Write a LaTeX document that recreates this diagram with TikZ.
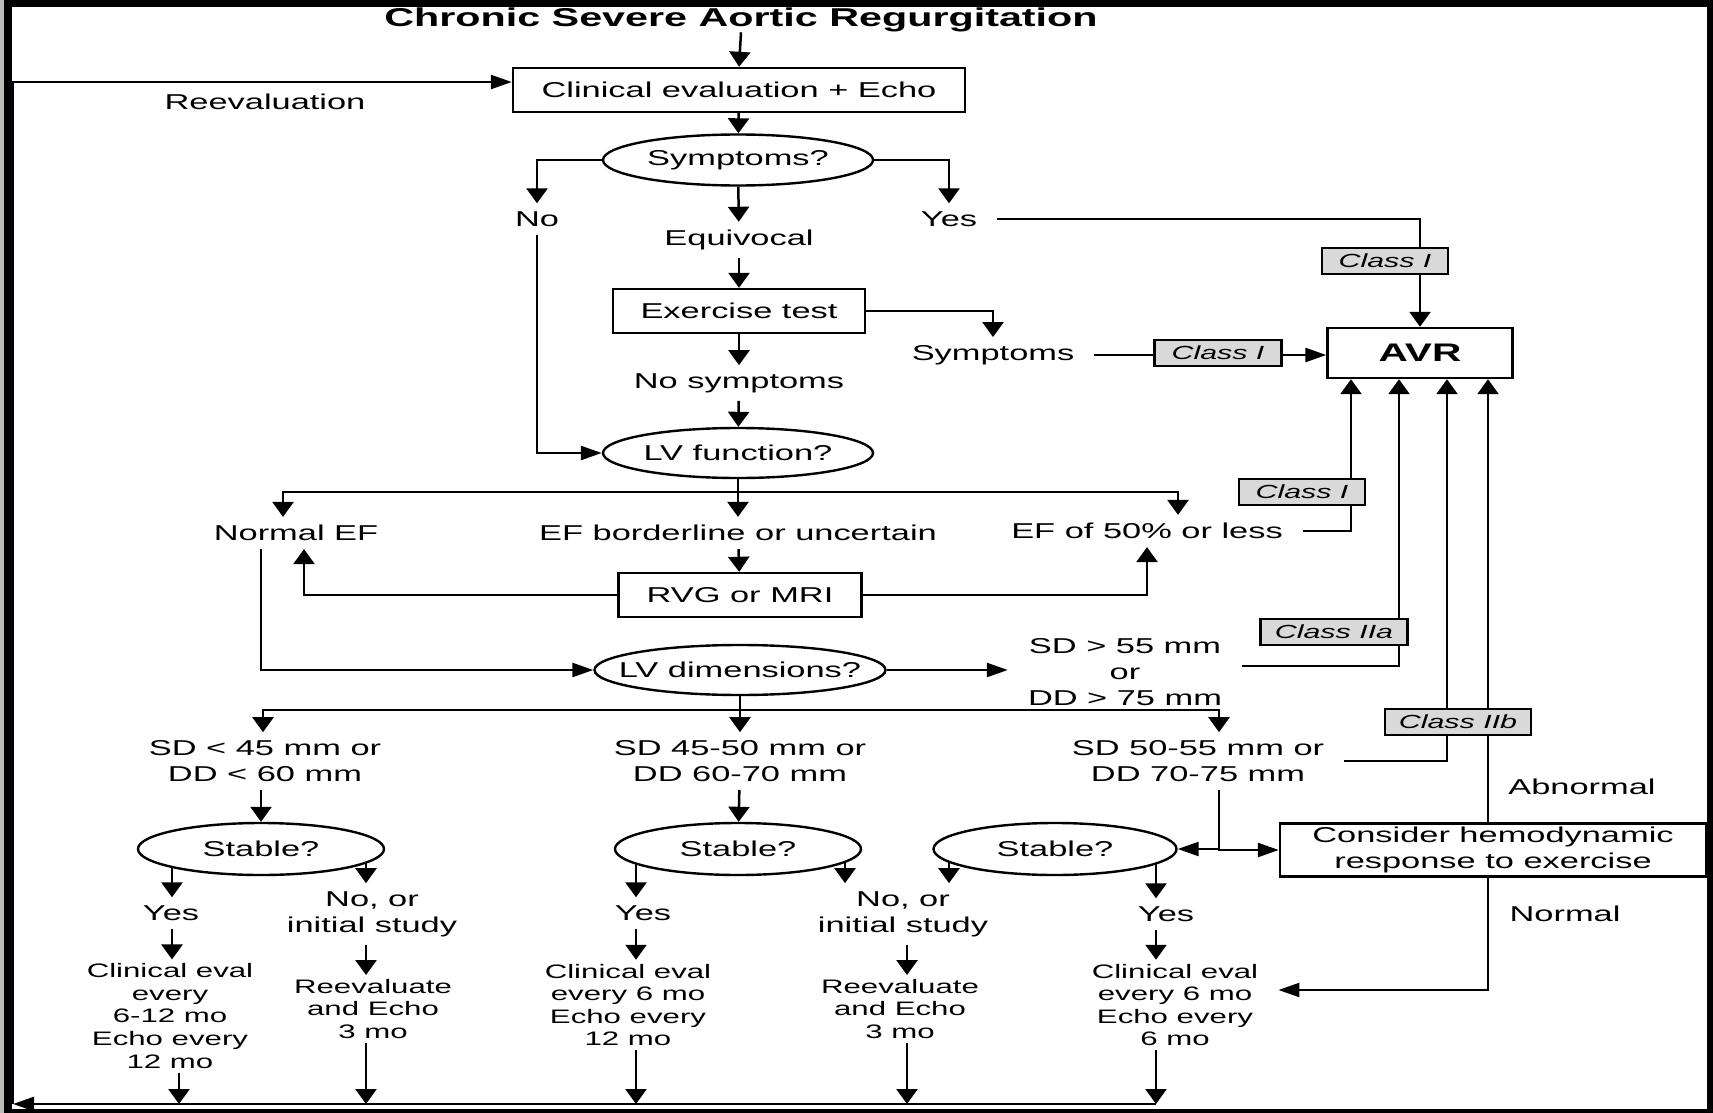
\documentclass[tikz,border=0pt]{standalone}
\usepackage{fontspec}
\setmainfont{Liberation Sans}[FakeStretch=1.6]
\usetikzlibrary{positioning,backgrounds,shapes.geometric,arrows.meta}

\definecolor{edgegray}{RGB}{190,186,182}
\newcommand{\flowmain}{\fontsize{21.5}{26}\selectfont}
\newcommand{\flowsmall}{\fontsize{19.5}{22.6}\selectfont}
\newcommand{\flowtag}{\fontsize{19}{22}\selectfont\itshape}
\newcommand{\flowtitle}{\fontsize{25.8}{30}\selectfont\bfseries}
\newcommand{\flowbold}{\fontsize{25.4}{30}\selectfont\bfseries}

\begin{document}
\begin{tikzpicture}[x=1pt,y=-1pt]

	\tikzstyle{every node}=[font=\flowmain]
	\tikzstyle{procbox}=[rectangle,draw=black,fill=white,line width=2.4pt,minimum height=44pt,inner sep=0pt,align=center]
	\tikzstyle{query}=[ellipse,draw=black,fill=white,line width=2.4pt,minimum height=51pt,inner xsep=-30pt,inner ysep=0pt]
	\tikzstyle{txt}=[inner xsep=20pt,inner ysep=8pt,align=center]
	\tikzstyle{smalltxt}=[inner xsep=20pt,inner ysep=4pt,align=center,font=\flowsmall]
	\tikzstyle{classtag}=[rectangle,draw=black,fill=gray!30,line width=2.4pt,minimum height=26pt,inner sep=0pt,font=\flowtag]
	\tikzstyle{arr}=[line width=2.5pt,-{Triangle[length=15pt,width=21pt]}]
	\tikzstyle{harr}=[line width=2.5pt,-{Triangle[length=21pt,width=14pt]}]

	\useasboundingbox (0,0) rectangle (1713,1113);
	\begin{pgfonlayer}{background}
		\fill[black] (0,0) rectangle (1713,1113);
		\fill[edgegray] (0,0) rectangle (4,1113);
		\fill[white] (12,7) rectangle (1707,1109);
	\end{pgfonlayer}

	\node[inner sep=0pt,font=\flowtitle] (title) at (741,20) {Chronic Severe Aortic Regurgitation};
	\node[procbox,minimum width=452pt] (eval) at (739,90) {Clinical evaluation + Echo};
	\node[txt] (reeval) at (265,102) {Reevaluation};
	\node[query,minimum width=270pt] (symq) at (738,160) {Symptoms?};
	\node[txt] (no) at (537,219) {No};
	\node[txt] (equiv) at (739,240) {Equivocal};
	\node[txt] (yes) at (949,219) {Yes};
	\node[procbox,minimum width=252pt] (exer) at (739,311) {Exercise test};
	\node[txt] (sympt) at (993,355) {Symptoms};
	\node[procbox,minimum width=185pt,minimum height=50pt,font=\flowbold] (avr) at (1420,353) {AVR};
	\node[txt] (nosym) at (739,383) {No symptoms};
	\node[query,minimum width=270pt,minimum height=50pt] (lvf) at (738,453) {LV function?};

	\node[txt] (normef) at (296,533) {Normal EF};
	\node[txt] (efbord) at (738,533) {EF borderline or uncertain};
	\node[txt] (efless) at (1147,531) {EF of 50\% or less};
	\node[procbox,minimum width=243pt] (rvg) at (740,595) {RVG or MRI};
	\node[query,minimum width=291pt,minimum height=50pt] (lvd) at (740,670) {LV dimensions?};
	\node[txt] (sdlarge) at (1125,672) {SD > 55 mm\\or\\DD > 75 mm};

	\node[txt] (sdsmall) at (265,761) {SD < 45 mm or\\DD < 60 mm};
	\node[txt] (sdmid) at (740,761) {SD 45-50 mm or\\DD 60-70 mm};
	\node[txt] (sdupper) at (1198,761) {SD 50-55 mm or\\DD 70-75 mm};
	\node[txt] (abn) at (1582,787) {Abnormal};
	\node[query,minimum width=246pt,minimum height=52pt] (st1) at (261,849) {Stable?};
	\node[query,minimum width=246pt,minimum height=52pt] (st2) at (738,849) {Stable?};
	\node[query,minimum width=243pt,minimum height=52pt] (st3) at (1055,849) {Stable?};
	\node[procbox,minimum width=426pt,minimum height=53pt] (hemo) at (1493,850) {Consider hemodynamic\\response to exercise};
	\node[txt] (norm) at (1565,914) {Normal};

	\node[txt] (yes1) at (171,913) {Yes};
	\node[txt] (noinit1) at (372,914) {No, or\\initial study};
	\node[txt] (yes2) at (643,913) {Yes};
	\node[txt] (noinit2) at (903,914) {No, or\\initial study};
	\node[txt] (yes3) at (1166,914) {Yes};
	\node[smalltxt] (fu1) at (170,1016) {Clinical eval\\every\\6-12 mo\\Echo every\\12 mo};
	\node[smalltxt] (re1) at (373,1009) {Reevaluate\\and Echo\\3 mo};
	\node[smalltxt] (fu2) at (628,1005) {Clinical eval\\every 6 mo\\Echo every\\12 mo};
	\node[smalltxt] (re2) at (900,1009) {Reevaluate\\and Echo\\3 mo};
	\node[smalltxt] (fu3) at (1175,1005) {Clinical eval\\every 6 mo\\Echo every\\6 mo};

	\coordinate (back) at (13,1104);
	\coordinate (k1) at (172,1104);
	\coordinate (k1b) at (179,1104);
	\coordinate (k2) at (366,1104);
	\coordinate (k3) at (636,1104);
	\coordinate (k4a) at (845,1104);
	\coordinate (k4) at (907,1104);
	\coordinate (k4b) at (949,1104);
	\coordinate (k5) at (1156,1104);

	\draw[arr] (title.south) -- (eval.north);
	\draw[arr] (eval) -- (symq);
	\draw[arr] (symq.west) -| (no.north);
	\draw[harr] (no.south) |- (lvf.west);
	\draw[arr] (symq) -- (equiv);
	\draw[arr] (symq.east) -| (yes.north);
	\draw[arr] (yes.east) -| (avr.north);
	\draw[arr] (equiv) -- (exer);
	\draw[arr] (exer.east) -| (sympt.north);
	\draw[harr] (sympt.east) -- (sympt.east -| avr.west);
	\draw[arr] (exer) -- (nosym);
	\draw[arr] (nosym) -- (lvf);

	\draw[arr] (lvf.south) -- ++(0,13) -| ([xshift=-13pt]normef.north);
	\draw[arr] (lvf.south) -- ++(0,13) -| ([xshift=31pt]efless.north);
	\draw[arr] (lvf) -- (efbord);
	\draw[arr] (efbord) -- (rvg);
	\draw[arr] (rvg.west) -| ([xshift=8pt]normef.south);
	\draw[arr] (rvg.east) -| (efless.south);
	\draw[harr] ([xshift=-35pt]normef.south) |- (lvd.west);
	\draw[arr] (efless.east) -| ([xshift=-69pt]avr.south);
	\draw[harr] (lvd.east) -- (lvd.east -| sdlarge.west);
	\draw[arr] ([yshift=6pt]sdlarge.east) -| ([xshift=-21pt]avr.south);

	\draw[arr] (lvd.south) -- ++(0,14) -| ([xshift=-2pt]sdsmall.north);
	\draw[arr] (lvd.south) -- ++(0,14) -| ([xshift=21pt]sdupper.north);
	\draw[arr] (lvd) -- (sdmid);
	\draw[arr] (sdupper.east) -| ([xshift=27pt]avr.south);
	\draw[arr] ([xshift=-5pt]hemo.north) -- ([xshift=68pt]avr.south);
	\draw[arr] (sdsmall.south -| st1) -- (st1);
	\draw[arr] (sdmid) -- (st2);
	\draw[harr] ([xshift=21pt]sdupper.south) |- (st3.east);
	\draw[harr] ([xshift=21pt]sdupper.south) |- (hemo.west);
	\draw[harr] ([xshift=-5pt]hemo.south) |- ([yshift=15pt]fu3.east);

	\begin{pgfonlayer}{background}
		\draw[arr] (st1 -| k1) -- (yes1.north -| k1);
		\draw[arr] (st1 -| k2) -- (noinit1.north -| k2);
		\draw[arr] (st2 -| k3) -- (yes2.north -| k3);
		\draw[arr] (st2 -| k4a) -- (noinit2.north -| k4a);
		\draw[arr] (st3 -| k4b) -- (noinit2.north -| k4b);
		\draw[arr] (st3 -| k5) -- (yes3.north -| k5);
	\end{pgfonlayer}

	\draw[arr] (yes1.south -| k1) -- (fu1.north -| k1);
	\draw[arr] (fu1.south -| k1b) -- (k1b);
	\draw[arr] (noinit1.south -| k2) -- (re1.north -| k2);
	\draw[arr] (re1.south -| k2) -- (k2);
	\draw[arr] (yes2.south -| k3) -- (fu2.north -| k3);
	\draw[arr] (fu2.south -| k3) -- (k3);
	\draw[arr] (noinit2.south -| k4) -- (re2.north -| k4);
	\draw[arr] (re2.south -| k4) -- (k4);
	\draw[arr] (yes3.south -| k5) -- (fu3.north -| k5);
	\draw[arr] (fu3.south -| k5) -- (k5);
	\draw[harr] (k5) -- (back);
	\draw[harr] (back) |- ([yshift=8pt]eval.west);

	\node[classtag,minimum width=126pt] (clsyes) at (1385,261) {Class I};
	\node[classtag,minimum width=127pt] (clsex) at (1218,353) {Class I};
	\node[classtag,minimum width=126pt] (clsef) at (1302,492) {Class I};
	\node[classtag,minimum width=147pt] (clsdd) at (1334,632) {Class IIa};
	\node[classtag,minimum width=146pt] (clssd) at (1458,722) {Class IIb};

\end{tikzpicture}
\end{document}
